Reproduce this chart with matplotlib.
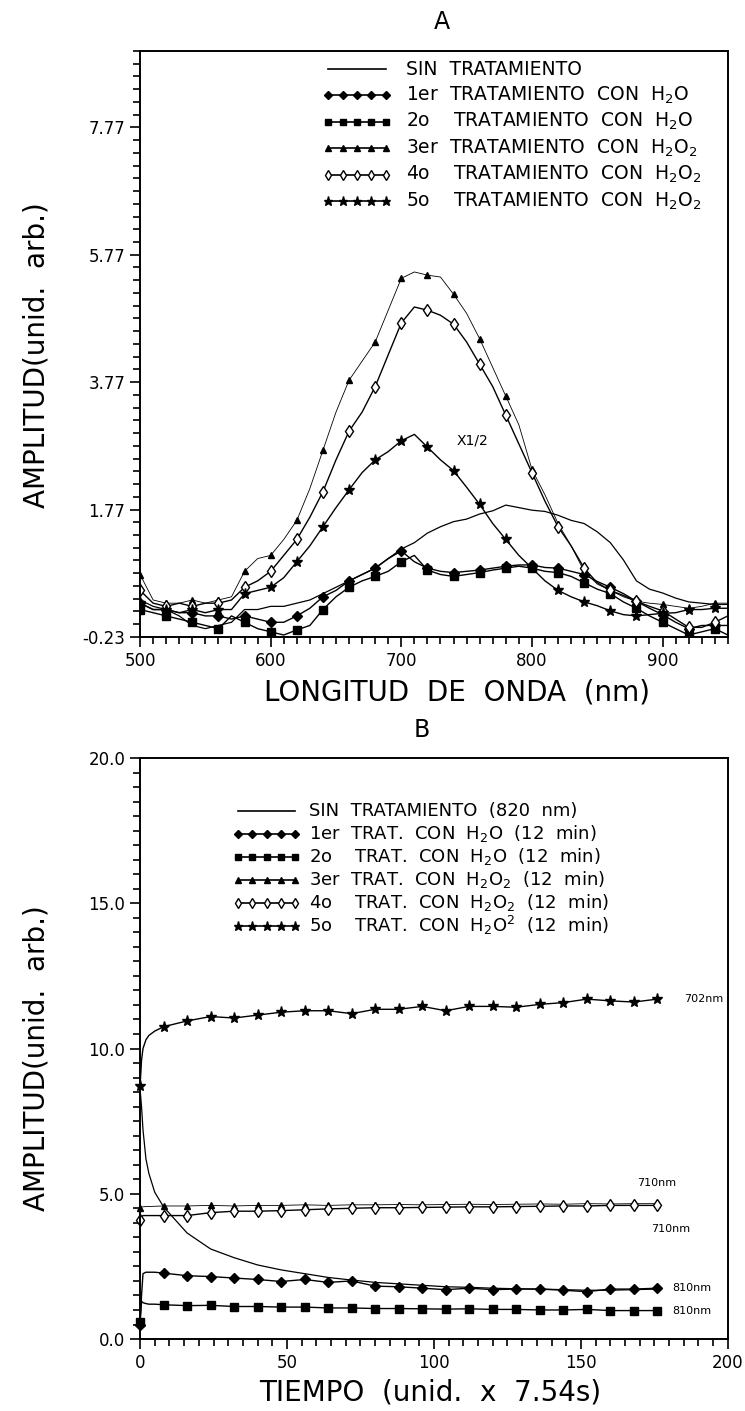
import numpy as np
import matplotlib
matplotlib.use("Agg")
import matplotlib.pyplot as plt
from matplotlib.ticker import MultipleLocator, FixedLocator, FormatStrFormatter

# ── Panel A: spectra (wavelength, nm) ─────────────────────────
wavelength = np.arange(500, 951, 10)

sin_trat_a = [0.35, 0.25, 0.2, 0.1, -0.05, -0.1, -0.05, 0.0, 0.2, 0.2,
              0.25, 0.25, 0.3, 0.35, 0.45, 0.55, 0.65, 0.75, 0.85, 1.0,
              1.15, 1.25, 1.4, 1.5, 1.58, 1.62, 1.7, 1.75, 1.84, 1.8,
              1.76, 1.74, 1.68, 1.6, 1.55, 1.42, 1.25, 0.98, 0.65, 0.52,
              0.46, 0.38, 0.32, 0.3, 0.28, 0.28]
trat1_a = [0.3, 0.2, 0.2, 0.15, 0.15, 0.1, 0.1, 0.05, 0.1, 0.05,
           0.0, 0.0, 0.1, 0.22, 0.4, 0.5, 0.65, 0.75, 0.85, 1.0,
           1.12, 0.95, 0.85, 0.8, 0.78, 0.8, 0.82, 0.85, 0.88, 0.9,
           0.9, 0.86, 0.85, 0.8, 0.75, 0.64, 0.55, 0.45, 0.33, 0.22,
           0.12, 0.0, -0.1, -0.05, -0.05, -0.05]
trat2_a = [0.2, 0.15, 0.1, 0.05, 0.0, -0.05, -0.1, 0.1, 0.0, -0.1,
           -0.15, -0.2, -0.12, -0.05, 0.2, 0.4, 0.55, 0.65, 0.72, 0.8,
           0.95, 1.05, 0.82, 0.75, 0.72, 0.75, 0.78, 0.82, 0.85, 0.88,
           0.85, 0.8, 0.78, 0.72, 0.62, 0.52, 0.45, 0.32, 0.22, 0.1,
           0.0, -0.1, -0.2, -0.15, -0.1, -0.2]
trat3_a = [0.75, 0.35, 0.3, 0.3, 0.35, 0.3, 0.35, 0.4, 0.8, 1.0,
           1.05, 1.3, 1.6, 2.1, 2.7, 3.3, 3.8, 4.1, 4.4, 4.9,
           5.4, 5.5, 5.45, 5.42, 5.15, 4.85, 4.45, 4.0, 3.55, 3.1,
           2.4, 2.0, 1.55, 1.2, 0.8, 0.6, 0.5, 0.4, 0.33, 0.3,
           0.28, 0.25, 0.22, 0.25, 0.3, 0.3]
trat4_a = [0.5, 0.3, 0.25, 0.3, 0.25, 0.3, 0.3, 0.35, 0.55, 0.65,
           0.8, 1.05, 1.3, 1.65, 2.05, 2.55, 3.0, 3.3, 3.7, 4.2,
           4.7, 4.95, 4.9, 4.82, 4.68, 4.4, 4.05, 3.7, 3.25, 2.8,
           2.35, 1.9, 1.5, 1.2, 0.85, 0.62, 0.5, 0.42, 0.33, 0.25,
           0.18, 0.05, -0.08, -0.08, 0.0, 0.1]
trat5_a = [0.3, 0.2, 0.2, 0.15, 0.2, 0.15, 0.2, 0.2, 0.45, 0.5,
           0.55, 0.7, 0.95, 1.2, 1.5, 1.8, 2.08, 2.35, 2.55, 2.68,
           2.85, 2.95, 2.75, 2.55, 2.38, 2.12, 1.85, 1.55, 1.3, 1.05,
           0.85, 0.65, 0.5, 0.4, 0.32, 0.26, 0.18, 0.12, 0.1, 0.12,
           0.14, 0.15, 0.2, 0.2, 0.22, 0.22]

labels_a = [
    "SIN  TRATAMIENTO",
    r"1er  TRATAMIENTO  CON  H$_2$O",
    r"2o    TRATAMIENTO  CON  H$_2$O",
    r"3er  TRATAMIENTO  CON  H$_2$O$_2$",
    r"4o    TRATAMIENTO  CON  H$_2$O$_2$",
    r"5o    TRATAMIENTO  CON  H$_2$O$_2$",
]

# ── Panel B: time traces (units of 7.54 s) ────────────────────
tiempo = [0, 0.5, 1, 2, 3, 5, 8, 16, 24, 32, 40, 48, 56, 64, 72, 80,
          88, 96, 104, 112, 120, 128, 136, 144, 152, 160, 168, 176]

sin_trat_b = [8.6, 8.0, 7.2, 6.2, 5.7, 5.05, 4.55, 3.65, 3.1, 2.8, 2.55,
              2.38, 2.25, 2.12, 2.03, 1.95, 1.9, 1.85, 1.8, 1.78, 1.75,
              1.73, 1.72, 1.7, 1.68, 1.68, 1.7, 1.72]
trat1_b = [0.5, 1.5, 2.25, 2.3, 2.3, 2.3, 2.27, 2.18, 2.15, 2.1, 2.05,
           1.98, 2.05, 1.95, 2.0, 1.82, 1.8, 1.75, 1.7, 1.75, 1.7,
           1.72, 1.72, 1.68, 1.63, 1.72, 1.72, 1.75]
trat2_b = [0.6, 1.3, 1.25, 1.22, 1.2, 1.2, 1.18, 1.15, 1.16, 1.12, 1.12,
           1.1, 1.1, 1.07, 1.07, 1.05, 1.05, 1.04, 1.03, 1.04, 1.02,
           1.02, 1.0, 1.0, 1.02, 0.98, 0.98, 0.98]
trat3_b = [4.5, 4.55, 4.55, 4.56, 4.56, 4.57, 4.58, 4.58, 4.6, 4.58, 4.6,
           4.6, 4.62, 4.6, 4.62, 4.62, 4.63, 4.62, 4.63, 4.64, 4.63,
           4.64, 4.65, 4.64, 4.66, 4.65, 4.66, 4.66]
trat4_b = [4.1, 4.2, 4.25, 4.25, 4.25, 4.25, 4.25, 4.25, 4.35, 4.4, 4.4,
           4.42, 4.45, 4.48, 4.5, 4.52, 4.52, 4.53, 4.54, 4.55, 4.55,
           4.56, 4.57, 4.58, 4.58, 4.6, 4.6, 4.6]
trat5_b = [8.7, 9.6, 10.0, 10.3, 10.45, 10.6, 10.75, 10.95, 11.1, 11.05,
           11.15, 11.25, 11.3, 11.3, 11.2, 11.35, 11.35, 11.45, 11.3,
           11.45, 11.45, 11.42, 11.52, 11.58, 11.7, 11.64, 11.6, 11.7]

labels_b = [
    "SIN  TRATAMIENTO  (820  nm)",
    r"1er  TRAT.  CON  H$_2$O  (12  min)",
    r"2o    TRAT.  CON  H$_2$O  (12  min)",
    r"3er  TRAT.  CON  H$_2$O$_2$  (12  min)",
    r"4o    TRAT.  CON  H$_2$O$_2$  (12  min)",
    r"5o    TRAT.  CON  H$_2$O$^2$  (12  min)",
]
end_tags_b = ["810nm", "810nm", "710nm", "710nm", "702nm"]

# marker styles shared by both panels: (marker, size, facecolor, linewidth)
styles = [
    (None, 0, "black", 0.9),
    ("D", 5, "black", 1.0),
    ("s", 5.5, "black", 1.0),
    ("^", 5, "black", 0.6),
    ("d", 6, "white", 1.0),
    ("*", 8, "black", 1.0),
]

plt.rcParams["font.family"] = "DejaVu Sans"
fig = plt.figure(figsize=(7.45, 14.11), dpi=100)
ax_a = fig.add_axes([0.188, 0.5486, 0.789, 0.4153])
ax_b = fig.add_axes([0.188, 0.051, 0.789, 0.4118])


def draw_legend(ax, labels, x0, x1, xt, ytop, dy, fs):
    for i, (lab, st) in enumerate(zip(labels, styles)):
        y = ytop - i * dy
        mk, ms, mfc, lw = st
        xs = np.linspace(x0, x1, 5)
        ax.plot(xs, [y] * 5, transform=ax.transAxes, color="black",
                lw=1.2, marker=mk, ms=ms * 0.85, mfc=mfc, mec="black",
                clip_on=False)
        ax.text(xt, y, lab, transform=ax.transAxes, fontsize=fs,
                va="center", ha="left")


def style_axis(ax):
    for sp in ax.spines.values():
        sp.set_linewidth(1.4)
    ax.tick_params(which="both", direction="out", top=False, right=False,
                   labelsize=12, width=1.2)
    ax.tick_params(which="major", length=7)
    ax.tick_params(which="minor", length=5)


# ── Plot A ────────────────────────────────────────────────────
series_a = [sin_trat_a, trat1_a, trat2_a, trat3_a, trat4_a, trat5_a]
for vals, (mk, ms, mfc, lw) in zip(series_a, styles):
    ax_a.plot(wavelength, vals, color="black", lw=lw, marker=mk, ms=ms,
              mfc=mfc, mec="black", markevery=(0, 2), clip_on=True)

ax_a.text(742, 2.85, "X1/2", fontsize=10, va="center")
ax_a.set_xlim(500, 950)
ax_a.set_ylim(-0.23, 8.97)
ax_a.xaxis.set_major_locator(MultipleLocator(100))
ax_a.xaxis.set_minor_locator(MultipleLocator(10))
ax_a.yaxis.set_major_locator(FixedLocator([-0.23, 1.77, 3.77, 5.77, 7.77]))
ax_a.yaxis.set_minor_locator(FixedLocator(np.arange(-0.23, 8.98, 0.2)))
ax_a.yaxis.set_major_formatter(FormatStrFormatter("%.2f"))
style_axis(ax_a)
draw_legend(ax_a, labels_a, 0.32, 0.418, 0.452, 0.969, 0.045, 13.5)

# ── Plot B ────────────────────────────────────────────────────
series_b = [sin_trat_b, trat1_b, trat2_b, trat3_b, trat4_b, trat5_b]
mark_idx = [0] + list(range(6, len(tiempo)))
for vals, (mk, ms, mfc, lw) in zip(series_b, styles):
    ax_b.plot(tiempo, vals, color="black", lw=lw, marker=mk, ms=ms,
              mfc=mfc, mec="black", markevery=mark_idx, clip_on=False)

# wavelength tags at the end of each treated trace
tag_offsets = [(5, 0.0), (5, 0.0), (-7, 0.7), (-2, -0.8), (9, 0.0)]
for vals, tag, (dx, dy) in zip(series_b[1:], end_tags_b, tag_offsets):
    ax_b.text(tiempo[-1] + dx, vals[-1] + dy, tag, fontsize=8, va="center")

ax_b.set_xlim(0, 200)
ax_b.set_ylim(0, 20)
ax_b.xaxis.set_major_locator(MultipleLocator(50))
ax_b.xaxis.set_minor_locator(MultipleLocator(5))
ax_b.yaxis.set_major_locator(MultipleLocator(5))
ax_b.yaxis.set_minor_locator(MultipleLocator(0.5))
ax_b.yaxis.set_major_formatter(FormatStrFormatter("%.1f"))
style_axis(ax_b)
draw_legend(ax_b, labels_b, 0.167, 0.264, 0.287, 0.909, 0.0396, 13)

# ── Titles and axis labels ────────────────────────────────────
fig.text(442 / 745, 1 - 22 / 1411, "A", fontsize=17, ha="center", va="center")
fig.text(422 / 745, 1 - 730 / 1411, "B", fontsize=17, ha="center", va="center")
fig.text(457 / 745, 1 - 693 / 1411, "LONGITUD  DE  ONDA  (nm)", fontsize=20,
         ha="center", va="center")
fig.text(430 / 745, 1 - 1393 / 1411, "TIEMPO  (unid.  x  7.54s)", fontsize=20,
         ha="center", va="center")
fig.text(37 / 745, 1 - 355 / 1411, "AMPLITUD(unid.  arb.)", fontsize=20,
         rotation=90, ha="center", va="center")
fig.text(37 / 745, 1 - 1058 / 1411, "AMPLITUD(unid.  arb.)", fontsize=20,
         rotation=90, ha="center", va="center")

fig.savefig("out.png", dpi=100)
